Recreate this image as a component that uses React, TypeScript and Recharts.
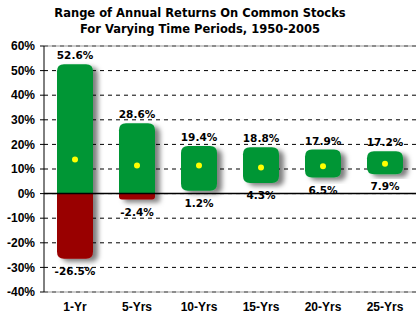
import { ComposedChart, Bar, Line, XAxis, YAxis, CartesianGrid, ReferenceLine } from 'recharts'

const periods = ['1-Yr', '5-Yrs', '10-Yrs', '15-Yrs', '20-Yrs', '25-Yrs']
const highs = [52.6, 28.6, 19.4, 18.8, 17.9, 17.2]
const lows = [-26.5, -2.4, 1.2, 4.3, 6.5, 7.9]
const means = [13.9, 11.4, 11.4, 10.6, 11.1, 12.1]
const yTicks = [-40, -30, -20, -10, 0, 10, 20, 30, 40, 50, 60]

const data = periods.map((p, i) => ({ period: p, range: [lows[i], highs[i]], low: lows[i], high: highs[i], mean: means[i] }))

const GREEN = '#009636'
const RED = '#990000'
const LABEL_FONT = '"DejaVu Sans", Verdana, sans-serif'
const AXIS_FONT = '"Liberation Sans", Arial, sans-serif'

function roundedPath(x: number, y: number, w: number, h: number, rt: number, rb: number) {
  rt = Math.min(rt, h / 2, w / 2)
  rb = Math.min(rb, h / 2, w / 2)
  return `M${x},${y + rt} Q${x},${y} ${x + rt},${y} L${x + w - rt},${y} Q${x + w},${y} ${x + w},${y + rt}` +
    ` L${x + w},${y + h - rb} Q${x + w},${y + h} ${x + w - rb},${y + h} L${x + rb},${y + h} Q${x},${y + h} ${x},${y + h - rb} Z`
}

// one range bar: green above zero, dark red below, with a soft drop shadow
function RangeShape(props: any) {
  const { x, y, width, height, payload, index } = props
  const top = Math.min(y, y + height)
  const h = Math.abs(height)
  const { low, high } = payload
  const zeroY = low < 0 ? top + h * high / (high - low) : top + h
  const fid = `shadow-${index}`
  const r = 7
  return (
    <g>
      <defs>
        <filter id={fid} x="-30%" y="-10%" width="170%" height="130%">
          <feDropShadow dx="5" dy="3" stdDeviation="2.5" floodColor="#000" floodOpacity="0.5" />
        </filter>
      </defs>
      <g filter={`url(#${fid})`}>
        {low < 0 ? (
          <>
            <path d={roundedPath(x, top, width, zeroY - top, r, 0)} fill={GREEN} />
            <path d={roundedPath(x, zeroY, width, top + h - zeroY, 0, r)} fill={RED} />
          </>
        ) : (
          <path d={roundedPath(x, top, width, h, r, r)} fill={GREEN} />
        )}
      </g>
      <text x={x + width / 2} y={top - 5} textAnchor="middle" fontFamily={LABEL_FONT} fontWeight="bold" fontSize={10.5} fill="#000">
        {`${high.toFixed(1)}%`}
      </text>
      <text x={x + width / 2} y={top + h + 16} textAnchor="middle" fontFamily={LABEL_FONT} fontWeight="bold" fontSize={10.5} fill="#000">
        {`${low.toFixed(1)}%`}
      </text>
    </g>
  )
}

export default function App() {
  return (
    <div style={{ position: 'absolute', left: 0, top: 0, width: 420, height: 327, background: '#fff' }}>
      <div style={{ position: 'absolute', left: 0, width: 400, top: 5, textAlign: 'center', fontFamily: LABEL_FONT, fontWeight: 'bold', fontSize: 11.5, lineHeight: '16px', color: '#000' }}>
        Range of Annual Returns On Common Stocks<br />For Varying Time Periods, 1950-2005
      </div>
      <ComposedChart width={420} height={327} data={data} margin={{ top: 46, right: 4, bottom: 0, left: 8 }}>
        <CartesianGrid vertical={false} stroke="#000" strokeDasharray="4 4" />
        <XAxis dataKey="period" height={35} tickSize={0} tickMargin={10} axisLine={{ stroke: '#999' }}
          tick={{ fill: '#000', fontFamily: AXIS_FONT, fontWeight: 'bold', fontSize: 12 }} />
        <YAxis domain={[-40, 60]} ticks={yTicks} interval={0} width={36} tickSize={4} tickMargin={5}
          tickFormatter={(v: number) => `${v}%`} axisLine={{ stroke: '#000' }} tickLine={{ stroke: '#000' }}
          tick={{ fill: '#000', fontFamily: AXIS_FONT, fontWeight: 'bold', fontSize: 12 }} />
        <YAxis yAxisId="right" orientation="right" width={0} tick={false} tickLine={false} axisLine={{ stroke: '#999' }} />
        <ReferenceLine y={60} stroke="#999" />
        <ReferenceLine y={0} stroke="#000" strokeWidth={1.5} />
        <Bar dataKey="range" barSize={36} shape={RangeShape} isAnimationActive={false} />
        <Line dataKey="mean" stroke="none" dot={{ r: 3, fill: '#ffff00', stroke: 'none' }} activeDot={false} isAnimationActive={false} />
      </ComposedChart>
    </div>
  )
}
